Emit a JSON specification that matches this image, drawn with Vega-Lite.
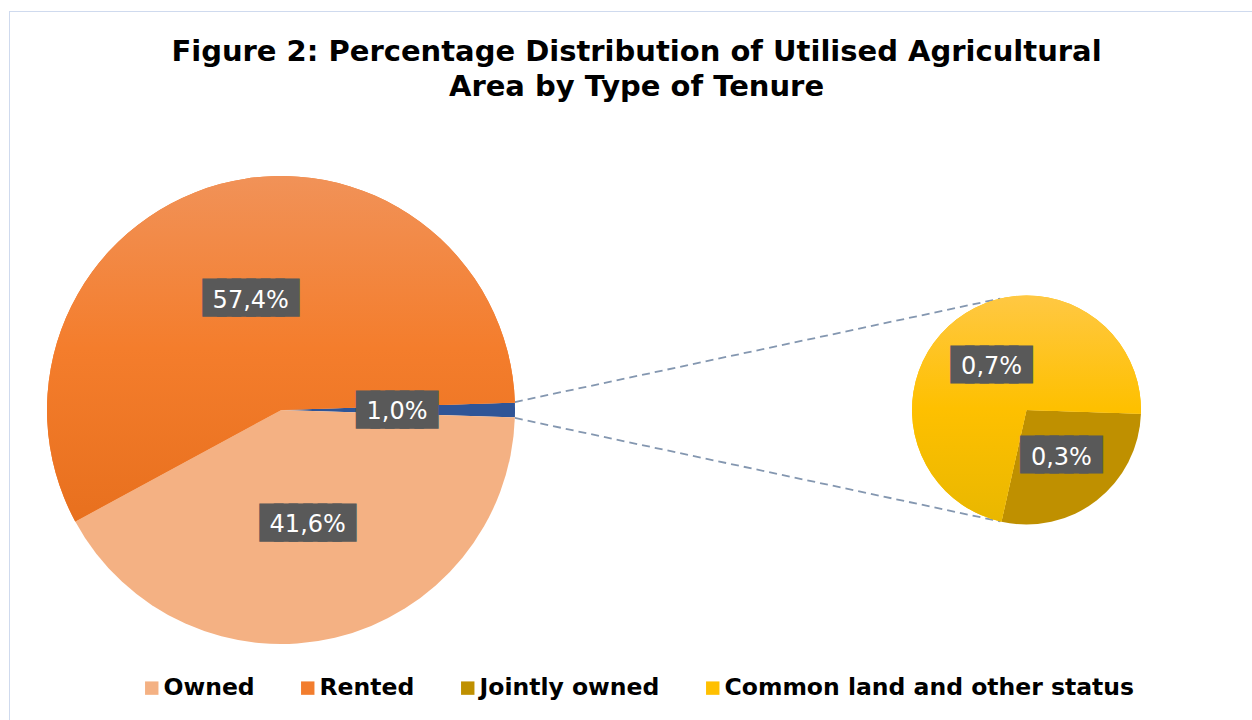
{
  "$schema": "https://vega.github.io/schema/vega-lite/v6.json",
  "width": 1243,
  "height": 709,
  "autosize": {"type": "none"},
  "padding": {"left": 9, "top": 11, "right": 0, "bottom": 0},
  "background": "white",
  "config": {
    "view": {"stroke": null},
    "locale": {"number": {"decimal": ",", "thousands": ".", "grouping": [3], "currency": ["", " €"]}},
    "font": "DejaVu Sans"
  },
  "title": {
    "text": ["Figure 2: Percentage Distribution of Utilised Agricultural", "Area by Type of Tenure"],
    "font": "DejaVu Sans",
    "fontSize": 29,
    "fontWeight": "bold",
    "color": "#000000",
    "lineHeight": 35,
    "anchor": "middle",
    "offset": -91,
    "dx": 6
  },
  "datasets": {
    "main": [
      {"tenure": "Jointly owned and common land", "share": 0.010, "order": 1},
      {"tenure": "Owned", "share": 0.416, "order": 2},
      {"tenure": "Rented", "share": 0.574, "order": 3}
    ],
    "secondary": [
      {"tenure": "Jointly owned", "share": 0.0028, "order": 1},
      {"tenure": "Common land and other status", "share": 0.0072, "order": 2}
    ]
  },
  "layer": [
    {
      "data": {"values": [{}]},
      "mark": {"type": "rule", "stroke": "#CFDAEE", "strokeWidth": 1},
      "encoding": {
        "y": {"datum": 1.70296, "type": "quantitative", "scale": {"domain": [-1.3248, 1.7051], "nice": false, "zero": false}, "axis": null}
      }
    },
    {
      "data": {"values": [{}]},
      "mark": {"type": "rule", "stroke": "#CFDAEE", "strokeWidth": 1},
      "encoding": {
        "x": {"datum": -1.16026, "type": "quantitative", "scale": {"domain": [-1.1624, 4.1496], "nice": false, "zero": false}, "axis": null}
      }
    },
    {
      "data": {"values": [{}]},
      "mark": {"type": "rule", "stroke": "#8497B0", "strokeWidth": 1.8, "strokeDash": [8, 5]},
      "encoding": {
        "x": {"datum": 0.9995, "type": "quantitative", "scale": {"domain": [-1.1624, 4.1496], "nice": false, "zero": false}, "axis": null},
        "y": {"datum": 0.034, "type": "quantitative", "scale": {"domain": [-1.3248, 1.7051], "nice": false, "zero": false}, "axis": null},
        "x2": {"datum": 3.0741},
        "y2": {"datum": 0.4764}
      }
    },
    {
      "data": {"values": [{}]},
      "mark": {"type": "rule", "stroke": "#8497B0", "strokeWidth": 1.8, "strokeDash": [8, 5]},
      "encoding": {
        "x": {"datum": 0.9995, "type": "quantitative", "scale": {"domain": [-1.1624, 4.1496], "nice": false, "zero": false}, "axis": null},
        "y": {"datum": -0.034, "type": "quantitative", "scale": {"domain": [-1.3248, 1.7051], "nice": false, "zero": false}, "axis": null},
        "x2": {"datum": 3.0741},
        "y2": {"datum": -0.4764}
      }
    },
    {
      "data": {"name": "main"},
      "encoding": {
        "x": {"datum": 0, "type": "quantitative", "scale": {"domain": [-1.1624, 4.1496], "nice": false, "zero": false}, "axis": null},
        "y": {"datum": 0, "type": "quantitative", "scale": {"domain": [-1.3248, 1.7051], "nice": false, "zero": false}, "axis": null},
        "theta": {"field": "share", "type": "quantitative", "stack": true, "scale": {"range": [1.5394, 7.8226]}},
        "order": {"field": "order", "type": "quantitative"}
      },
      "layer": [
        {
          "mark": {"type": "arc", "radius": 234},
          "encoding": {
            "color": {
              "field": "tenure",
              "type": "nominal",
              "scale": {
                "domain": ["Owned", "Rented", "Jointly owned", "Common land and other status", "Jointly owned and common land"],
                "range": ["#F4B183", "#F27D2E", "#BF9000", "#FFC000", "#2F5597"]
              },
              "legend": {
                "values": ["Owned", "Rented", "Jointly owned", "Common land and other status"],
                "orient": "none",
                "legendX": 131,
                "legendY": 665,
                "direction": "horizontal",
                "title": null,
                "symbolType": "square",
                "symbolSize": 180,
                "symbolStrokeWidth": 0,
                "symbolOpacity": 1,
                "labelFont": "DejaVu Sans",
                "labelFontWeight": "bold",
                "labelFontSize": 23.5,
                "labelColor": "#000000",
                "labelOffset": 0,
                "labelLimit": 1000,
                "columnPadding": 41
              }
            }
          }
        },
        {
          "mark": {
            "type": "arc",
            "radius": 234,
            "color": {"gradient": "linear", "x1": 0, "y1": 0, "x2": 0, "y2": 1, "stops": [{"offset": 0, "color": "#F19258"}, {"offset": 0.5, "color": "#F47D2C"}, {"offset": 1, "color": "#E8701E"}]}
          },
          "encoding": {
            "opacity": {"condition": {"test": "datum.tenure === 'Rented'", "value": 1}, "value": 0}
          }
        },
        {
          "mark": {"type": "text", "radius": 116, "font": "DejaVu Sans Mono", "fontSize": 24.25, "fill": "#595959", "stroke": "#595959", "strokeWidth": 9.3, "strokeJoin": "miter", "dy": 1},
          "encoding": {
            "text": {"condition": {"test": "datum.share >= 0.1", "value": "██████"}, "value": "█████"}
          }
        },
        {
          "mark": {"type": "text", "radius": 116, "fontSize": 24, "fill": "#FFFFFF", "dy": 2.5},
          "encoding": {"text": {"field": "share", "type": "quantitative", "format": ".1%"}}
        }
      ]
    },
    {
      "data": {"name": "secondary"},
      "encoding": {
        "x": {"datum": 3.1859, "type": "quantitative", "scale": {"domain": [-1.1624, 4.1496], "nice": false, "zero": false}, "axis": null},
        "y": {"datum": 0, "type": "quantitative", "scale": {"domain": [-1.3248, 1.7051], "nice": false, "zero": false}, "axis": null},
        "theta": {"field": "share", "type": "quantitative", "stack": true, "scale": {"range": [1.6031, 7.8863]}},
        "order": {"field": "order", "type": "quantitative"}
      },
      "layer": [
        {
          "mark": {"type": "arc", "radius": 114.5},
          "encoding": {
            "color": {"field": "tenure", "type": "nominal"}
          }
        },
        {
          "mark": {
            "type": "arc",
            "radius": 114.5,
            "color": {"gradient": "linear", "x1": 0, "y1": 0, "x2": 0, "y2": 1, "stops": [{"offset": 0, "color": "#FFC843"}, {"offset": 0.5, "color": "#FEC000"}, {"offset": 1, "color": "#E9B700"}]}
          },
          "encoding": {
            "opacity": {"condition": {"test": "datum.tenure === 'Common land and other status'", "value": 1}, "value": 0}
          }
        },
        {
          "mark": {"type": "text", "radius": 57, "font": "DejaVu Sans Mono", "fontSize": 24.4, "fill": "#595959", "stroke": "#595959", "strokeWidth": 9.1, "strokeJoin": "miter", "dy": 1},
          "encoding": {"text": {"value": "█████"}}
        },
        {
          "mark": {"type": "text", "radius": 57, "fontSize": 24, "fill": "#FFFFFF", "dy": 2.5},
          "encoding": {"text": {"field": "share", "type": "quantitative", "format": ".1%"}}
        }
      ]
    }
  ],
  "resolve": {"scale": {"theta": "independent"}}
}
